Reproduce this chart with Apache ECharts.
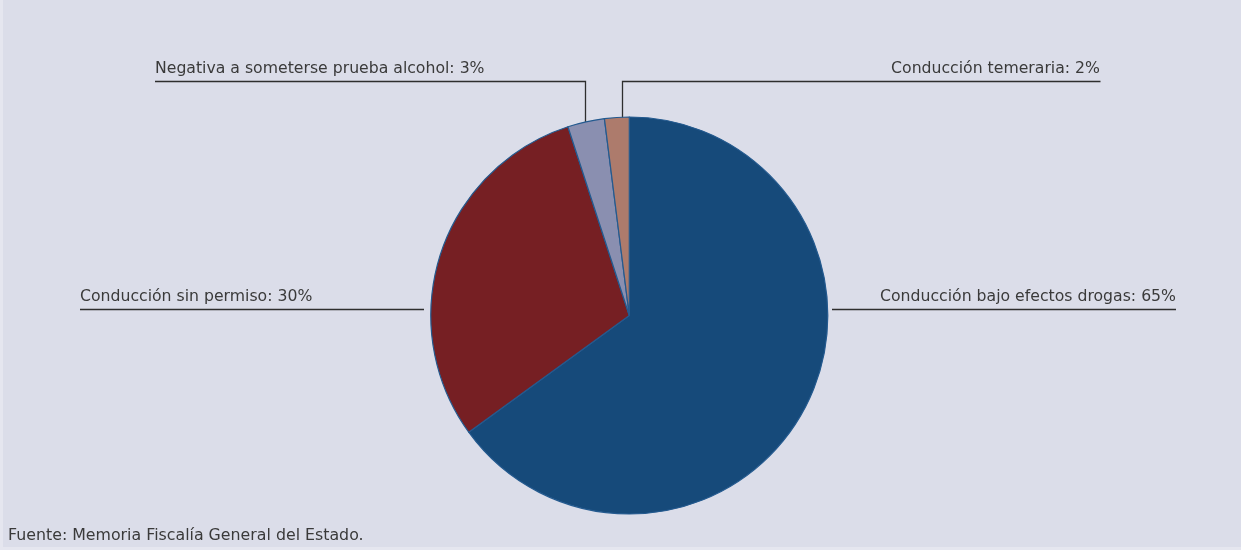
<!DOCTYPE html>
<html>
<head>
<meta charset="utf-8">
<script src="https://cdn.jsdelivr.net/npm/echarts@6/dist/echarts.min.js"></script>
<style>
  html, body { margin: 0; padding: 0; background: #e5e6ef; }
  #main { width: 1241px; height: 550px; }
</style>
</head>
<body>
<div id="main"></div>
<script>
// Delitos por tipo (porcentaje del total)
const categories = [
  'Conducción bajo efectos drogas',
  'Conducción sin permiso',
  'Negativa a someterse prueba alcohol',
  'Conducción temeraria'
];
const shares = [65, 30, 3, 2];
const sliceColors = ['#164a7a', '#761f23', '#8a8fb0', '#ad7b6c'];
const sourceNote = 'Fuente: Memoria Fiscalía General del Estado.';

const FONT = '"DejaVu Sans", sans-serif';
const TEXT_COLOR = '#3a3a3a';

// Label placement: text anchor plus leader line (elbowed for the two thin slices at the top)
const labelPlacement = [
  { x: 1176, y: 296.5, align: 'right', line: [[832, 309.5], [1176, 309.5]] },
  { x: 80,   y: 296.5, align: 'left',  line: [[80, 309.5], [424, 309.5]] },
  { x: 155,  y: 68.5,  align: 'left',  line: [[585.5, 122], [585.5, 81.5], [155, 81.5]] },
  { x: 1100, y: 68.5,  align: 'right', line: [[622.5, 118.5], [622.5, 81.5], [1100.5, 81.5]] }
];

const chart = echarts.init(document.getElementById('main'));
chart.setOption({
  animation: false,
  backgroundColor: '#e5e6ef',
  graphic: [
    {
      type: 'rect', z: -10, silent: true,
      shape: { x: 3, y: 0, width: 1238, height: 547 },
      style: { fill: '#dbdde9' }
    },
    {
      type: 'text', left: 8, top: 528, silent: true,
      style: { text: sourceNote, font: '15.8px ' + FONT, fill: TEXT_COLOR }
    }
  ],
  series: [{
    type: 'pie',
    center: [629.3, 315.5],
    radius: 198.5,
    startAngle: 90,
    clockwise: true,
    avoidLabelOverlap: false,
    itemStyle: { borderColor: '#245a8f', borderWidth: 1.2 },
    label: {
      show: true,
      formatter: '{b}: {c}%',
      fontFamily: FONT,
      fontSize: 15.7,
      color: TEXT_COLOR
    },
    labelLine: {
      show: true,
      smooth: false,
      lineStyle: { color: '#2e2e2e', width: 1.3 }
    },
    labelLayout: function (params) {
      const p = labelPlacement[params.dataIndex];
      return {
        x: p.x, y: p.y, align: p.align, verticalAlign: 'middle',
        labelLinePoints: p.line
      };
    },
    emphasis: { disabled: true },
    data: categories.map((name, i) => ({
      name: name,
      value: shares[i],
      itemStyle: { color: sliceColors[i] }
    }))
  }]
});
</script>
</body>
</html>
